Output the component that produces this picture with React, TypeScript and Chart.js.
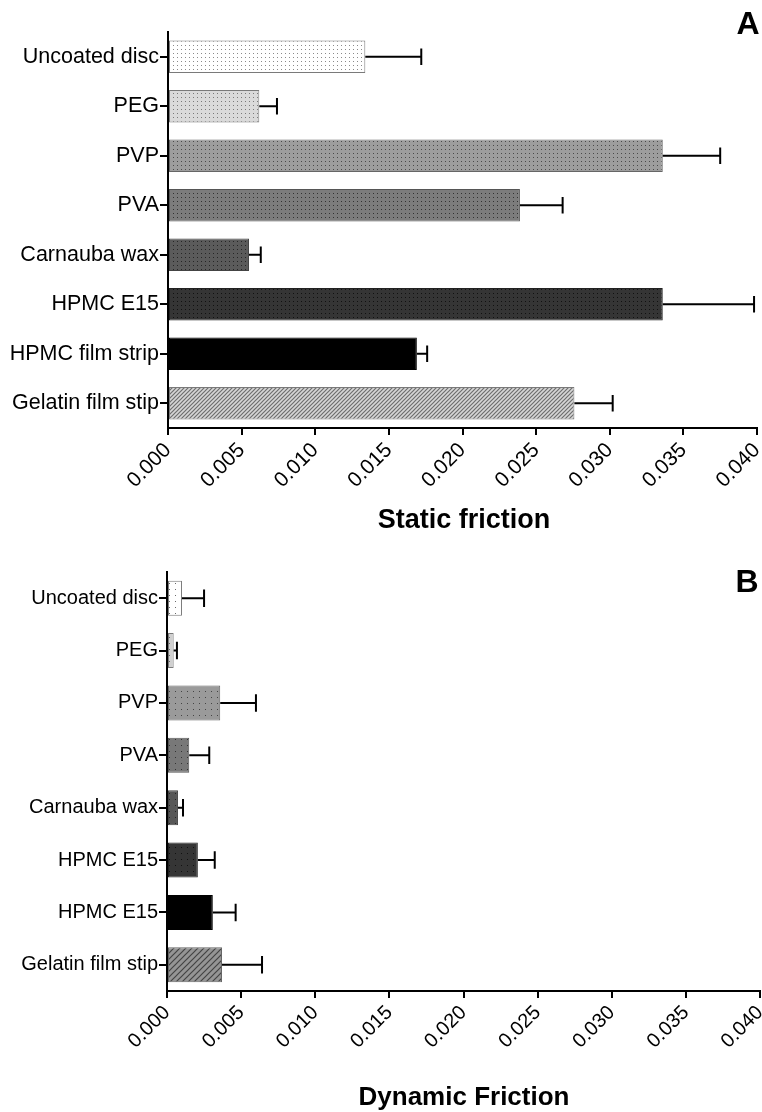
import React, { useEffect, useRef } from "react";
import { Chart, registerables } from "chart.js";

Chart.register(...registerables);

// ---- data ----
const staticLabels = [
  "Uncoated disc",
  "PEG",
  "PVP",
  "PVA",
  "Carnauba wax",
  "HPMC E15",
  "HPMC film strip",
  "Gelatin film stip",
];
const staticMean = [0.0134, 0.0062, 0.0336, 0.0239, 0.0055, 0.0336, 0.0169, 0.0276];
const staticErr = [0.0038, 0.0012, 0.0039, 0.0029, 0.0008, 0.0062, 0.0007, 0.0026];

const dynamicLabels = [
  "Uncoated disc",
  "PEG",
  "PVP",
  "PVA",
  "Carnauba wax",
  "HPMC E15",
  "HPMC E15",
  "Gelatin film stip",
];
const dynamicMean = [0.00101, 0.00045, 0.00359, 0.0015, 0.00074, 0.00208, 0.00309, 0.00371];
const dynamicErr = [0.00149, 0.00022, 0.00241, 0.00135, 0.00034, 0.00114, 0.00154, 0.0027];

const frictionTicks = [0, 0.005, 0.01, 0.015, 0.02, 0.025, 0.03, 0.035, 0.04];

// ---- bar fills ----
type Fill = { kind: "dots" | "hatch" | "solid"; bg: string; fg: string; border: string };

const staticFills: Fill[] = [
  { kind: "dots", bg: "#ffffff", fg: "#8a8a8a", border: "#7a7a7a" },
  { kind: "dots", bg: "#dadada", fg: "#7a7a7a", border: "#7a7a7a" },
  { kind: "dots", bg: "#9d9d9d", fg: "#4a4a4a", border: "#666666" },
  { kind: "dots", bg: "#7c7c7c", fg: "#333333", border: "#555555" },
  { kind: "dots", bg: "#5b5b5b", fg: "#262626", border: "#444444" },
  { kind: "dots", bg: "#353535", fg: "#111111", border: "#222222" },
  { kind: "solid", bg: "#000000", fg: "#000000", border: "#000000" },
  { kind: "hatch", bg: "#d6d6d6", fg: "#6e6e6e", border: "#7a7a7a" },
];

const dynamicFills: Fill[] = [
  { kind: "dots", bg: "#ffffff", fg: "#6a6a6a", border: "#7a7a7a" },
  { kind: "dots", bg: "#d0d0d0", fg: "#6a6a6a", border: "#7a7a7a" },
  { kind: "dots", bg: "#9a9a9a", fg: "#444444", border: "#666666" },
  { kind: "dots", bg: "#787878", fg: "#333333", border: "#555555" },
  { kind: "dots", bg: "#585858", fg: "#262626", border: "#444444" },
  { kind: "dots", bg: "#353535", fg: "#111111", border: "#222222" },
  { kind: "solid", bg: "#000000", fg: "#000000", border: "#000000" },
  { kind: "hatch", bg: "#959595", fg: "#444444", border: "#666666" },
];

const FONT = '"Liberation Sans", Arial, Helvetica, sans-serif';

function makeFill(f: Fill, step: number): string | CanvasPattern {
  if (f.kind === "solid") return f.bg;
  const c = document.createElement("canvas");
  c.width = step;
  c.height = step;
  const g = c.getContext("2d") as CanvasRenderingContext2D;
  g.fillStyle = f.bg;
  g.fillRect(0, 0, step, step);
  if (f.kind === "dots") {
    g.fillStyle = f.fg;
    g.fillRect(1, 1, 1, 1);
  } else {
    g.strokeStyle = f.fg;
    g.lineWidth = 1.2;
    g.beginPath();
    g.moveTo(-1, step + 1);
    g.lineTo(step + 1, -1);
    g.moveTo(-1, 1);
    g.lineTo(1, -1);
    g.moveTo(step - 1, step + 1);
    g.lineTo(step + 1, step - 1);
    g.stroke();
  }
  return (g.createPattern(c, "repeat") as CanvasPattern) || f.bg;
}

// one-sided (positive) error bars with end caps
const errorBars = {
  id: "errorBars",
  afterDatasetsDraw(chart: any) {
    const ctx = chart.ctx;
    const xs = chart.scales.x;
    chart.data.datasets.forEach((ds: any, di: number) => {
      const meta = chart.getDatasetMeta(di);
      meta.data.forEach((bar: any, i: number) => {
        const p = bar.getProps(["x", "y", "height"], true);
        const xEnd = xs.getPixelForValue(ds.data[i] + ds.errors[i]);
        const cap = p.height / 4;
        ctx.save();
        ctx.strokeStyle = "#000";
        ctx.lineWidth = 2;
        ctx.beginPath();
        ctx.moveTo(p.x, p.y);
        ctx.lineTo(xEnd, p.y);
        ctx.moveTo(xEnd, p.y - cap);
        ctx.lineTo(xEnd, p.y + cap);
        ctx.stroke();
        ctx.restore();
      });
    });
  },
};

// axis title and panel letter
const panelText = {
  id: "panelText",
  afterDraw(chart: any, _args: any, opts: any) {
    const ctx = chart.ctx;
    (opts.items || []).forEach((it: any) => {
      ctx.save();
      ctx.font = it.font;
      ctx.fillStyle = "#000";
      ctx.textAlign = "center";
      ctx.textBaseline = "middle";
      ctx.fillText(it.text, it.x, it.y);
      ctx.restore();
    });
  },
};

type PanelCfg = {
  labels: string[];
  mean: number[];
  err: number[];
  fills: Fill[];
  step: number;
  yWidth: number;
  xHeight: number;
  padTop: number;
  padRight: number;
  catSize: number;
  tickSize: number;
  barPct: number;
  items: any[];
};

function buildChart(canvas: HTMLCanvasElement, cfg: PanelCfg) {
  return new Chart(canvas, {
    type: "bar",
    data: {
      labels: cfg.labels,
      datasets: [
        {
          data: cfg.mean,
          errors: cfg.err,
          backgroundColor: cfg.fills.map((f) => makeFill(f, cfg.step)),
          borderColor: cfg.fills.map((f) => f.border),
          borderWidth: 1,
          borderSkipped: false,
          categoryPercentage: 1,
          barPercentage: cfg.barPct,
        } as any,
      ],
    },
    options: {
      indexAxis: "y",
      responsive: false,
      animation: false,
      devicePixelRatio: 1,
      layout: { padding: { top: cfg.padTop, right: cfg.padRight, left: 0, bottom: 0 } },
      scales: {
        x: {
          type: "linear",
          position: "bottom",
          min: 0,
          max: 0.04,
          grid: {
            display: true,
            drawOnChartArea: false,
            drawTicks: true,
            tickLength: 7,
            color: "#000",
            lineWidth: 2,
          },
          border: { display: true, color: "#000", width: 2 },
          ticks: {
            color: "#000",
            font: { family: FONT, size: cfg.tickSize },
            minRotation: 45,
            maxRotation: 45,
            autoSkip: false,
            padding: 3,
            callback: (v: any) => Number(v).toFixed(3),
          },
          afterBuildTicks: (axis: any) => {
            axis.ticks = frictionTicks.map((value) => ({ value }));
          },
          afterFit: (axis: any) => {
            axis.height = cfg.xHeight;
            axis.paddingLeft = 0;
            axis.paddingRight = 0;
          },
        },
        y: {
          type: "category",
          position: "left",
          grid: {
            display: true,
            drawOnChartArea: false,
            drawTicks: true,
            tickLength: 8,
            offset: false,
            color: "#000",
            lineWidth: 2,
          },
          border: { display: true, color: "#000", width: 2 },
          ticks: {
            color: "#000",
            font: { family: FONT, size: cfg.catSize },
            padding: 1,
            autoSkip: false,
          },
          afterFit: (axis: any) => {
            axis.width = cfg.yWidth;
            axis.paddingTop = 0;
            axis.paddingBottom = 0;
          },
        },
      },
      plugins: {
        legend: { display: false },
        tooltip: { enabled: false },
        panelText: { items: cfg.items },
      } as any,
    },
    plugins: [errorBars, panelText],
  });
}

export default function App() {
  const staticRef = useRef<HTMLCanvasElement>(null);
  const dynamicRef = useRef<HTMLCanvasElement>(null);

  useEffect(() => {
    const a = buildChart(staticRef.current as HTMLCanvasElement, {
      labels: staticLabels,
      mean: staticMean,
      err: staticErr,
      fills: staticFills,
      step: 4,
      yWidth: 168,
      xHeight: 112,
      padTop: 32,
      padRight: 5,
      catSize: 21.5,
      tickSize: 21,
      barPct: 0.66,
      items: [
        { text: "Static friction", x: 464, y: 521, font: `bold 27px ${FONT}` },
        { text: "A", x: 748, y: 25, font: `bold 32px ${FONT}` },
      ],
    });
    const b = buildChart(dynamicRef.current as HTMLCanvasElement, {
      labels: dynamicLabels,
      mean: dynamicMean,
      err: dynamicErr,
      fills: dynamicFills,
      step: 6,
      yWidth: 167,
      xHeight: 121,
      padTop: 32,
      padRight: 2,
      catSize: 20,
      tickSize: 20,
      barPct: 0.67,
      items: [
        { text: "Dynamic Friction", x: 464, y: 558, font: `bold 26px ${FONT}` },
        { text: "B", x: 747, y: 43, font: `bold 32px ${FONT}` },
      ],
    });
    return () => {
      a.destroy();
      b.destroy();
    };
  }, []);

  return (
    <div style={{ position: "absolute", left: 0, top: 0, width: 762, height: 1112, background: "#fff" }}>
      <canvas
        ref={staticRef}
        width={762}
        height={540}
        style={{ position: "absolute", left: 0, top: 0, width: 762, height: 540, display: "block" }}
      />
      <canvas
        ref={dynamicRef}
        width={762}
        height={572}
        style={{ position: "absolute", left: 0, top: 540, width: 762, height: 572, display: "block" }}
      />
    </div>
  );
}
